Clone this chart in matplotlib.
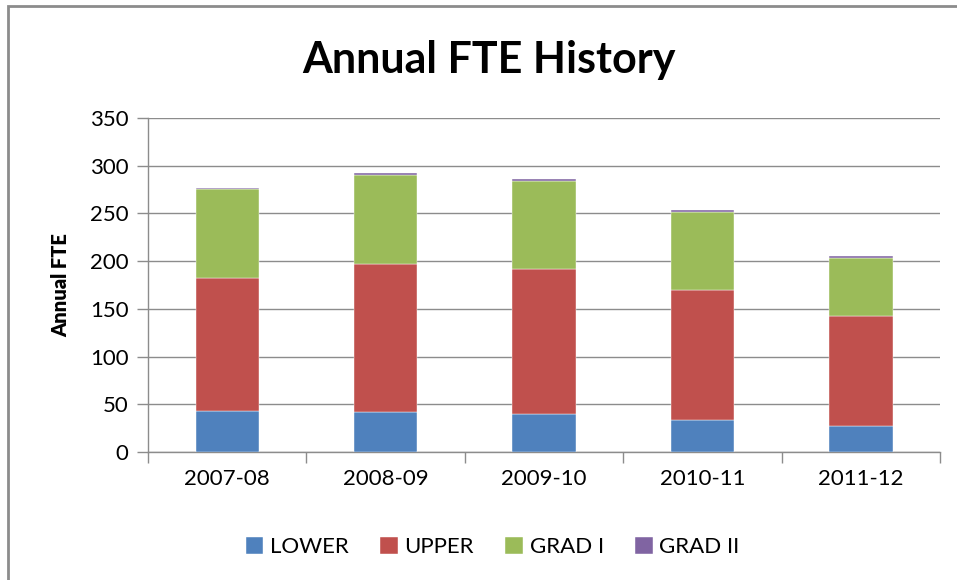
import numpy as np
import matplotlib.pyplot as plt
from matplotlib.patches import Rectangle

plt.rcParams["font.family"] = ["Lato", "DejaVu Sans"]

# Data
years = ["2007-08", "2008-09", "2009-10", "2010-11", "2011-12"]
lower = [43.4, 42.0, 40.2, 33.9, 27.3]
upper = [138.8, 154.9, 151.1, 136.0, 115.7]
grad1 = [93.0, 93.7, 93.0, 81.8, 60.5]
grad2 = [1.0, 1.7, 1.4, 1.8, 1.7]

series = [("LOWER", lower, "#4f81bd"),
          ("UPPER", upper, "#c0504d"),
          ("GRAD I", grad1, "#9bbb59"),
          ("GRAD II", grad2, "#8064a2")]

fig = plt.figure(figsize=(9.57, 5.8), dpi=100)
ax = fig.add_axes([0.1547, 0.2207, 0.8276, 0.5759])

x = np.arange(len(years))
bottom = np.zeros(len(years))
for name, vals, col in series:
    ax.bar(x, vals, width=0.4, bottom=bottom, color=col, label=name,
           edgecolor="white", linewidth=0.3, zorder=3)
    bottom += np.array(vals)

ax.set_xlim(-0.5, len(years) - 0.5)
ax.set_ylim(0, 350)
ax.set_yticks(np.arange(0, 351, 50))
ax.yaxis.grid(True, color="#8c8c8c", linewidth=1.0, zorder=0)
ax.set_axisbelow(True)

ax.set_xticks(x)
ax.set_xticklabels(years)
ax.set_xticks(np.arange(-0.5, len(years)), minor=True)
ax.tick_params(axis="x", which="major", length=0, pad=12, labelsize=16)
ax.tick_params(axis="x", which="minor", length=8, color="#8c8c8c", width=1)
ax.tick_params(axis="y", length=8, color="#8c8c8c", width=1, pad=6, labelsize=16)

for s in ["top", "right"]:
    ax.spines[s].set_visible(False)
for s in ["left", "bottom"]:
    ax.spines[s].set_color("#8c8c8c")
    ax.spines[s].set_linewidth(1)

ax.set_ylabel("Annual FTE", fontsize=14.5, fontweight="heavy", labelpad=14)
fig.text(0.511, 0.897, "Annual FTE History", ha="center", va="center",
         fontsize=31, fontweight="bold")

ax.legend(loc="upper center", bbox_to_anchor=(0.435, -0.195), ncol=4,
          frameon=False, fontsize=16, handlelength=0.8, handleheight=0.8,
          handletextpad=0.3, columnspacing=1.4)

# chart border
fig.patches.append(Rectangle((8 / 957, -0.01), 1.0, 1 - 6 / 580 + 0.01,
                             transform=fig.transFigure, fill=False,
                             edgecolor="#8c8c8c", linewidth=2))

fig.savefig("out.png", dpi=100)
